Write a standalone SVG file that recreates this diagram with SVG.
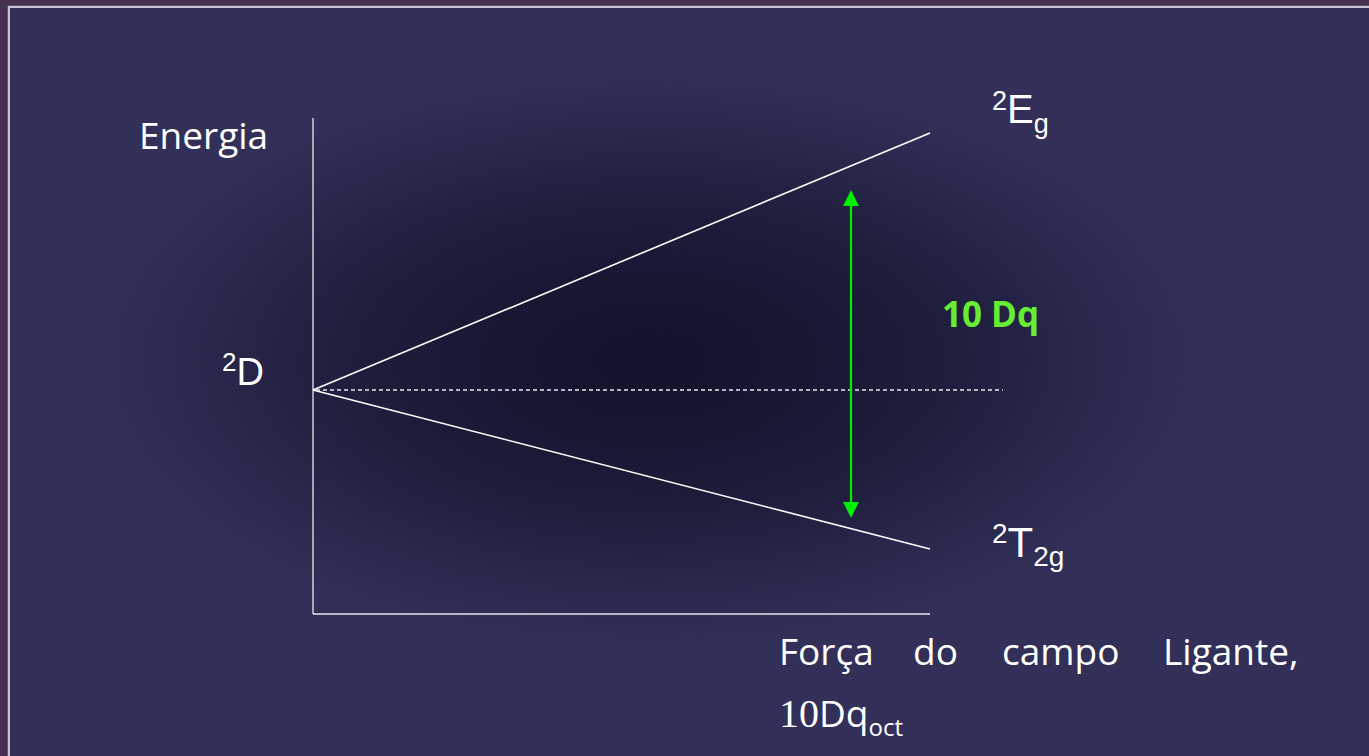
<svg xmlns="http://www.w3.org/2000/svg" width="1369" height="756" viewBox="0 0 1369 756">
<defs>
<radialGradient id="glow" cx="650" cy="360" r="560" gradientUnits="userSpaceOnUse" gradientTransform="translate(650 360) scale(1 0.52) translate(-650 -360)">
<stop offset="0" stop-color="#12122a"/>
<stop offset="0.5" stop-color="#1d1c3a"/>
<stop offset="0.85" stop-color="#2c2a50"/>
<stop offset="1" stop-color="#323058"/>
</radialGradient>
<style>
.ax{stroke:#e8e8ee;stroke-width:1.3;fill:none}
.ln{stroke:#ffffff;stroke-width:1.6;fill:none}
.t{fill:#ffffff;font-family:Arial,"Liberation Sans",sans-serif}
.c{fill:#ffffff;font-family:"Open Sans","Noto Sans",sans-serif}
.ah{fill:#00ee00}
</style>
</defs>
<rect x="0" y="0" width="1369" height="756" fill="#45304f"/>
<rect x="9" y="7" width="1362" height="752" fill="#323058" stroke="#c8c4d4" stroke-width="2.5"/>
<rect x="10" y="8" width="1359" height="748" fill="url(#glow)"/>
<g id="axes">
<line class="ax" x1="313" y1="118" x2="313" y2="614"/>
<line class="ax" x1="313" y1="614" x2="930" y2="614"/>
</g>
<g id="connectors">
<line class="ln" x1="313" y1="390" x2="930" y2="133"/>
<line class="ln" x1="313" y1="390" x2="930" y2="549"/>
<line x1="316" y1="390" x2="1003" y2="390" stroke="#e8e8ee" stroke-width="1.3" stroke-dasharray="4,3"/>
<line x1="851" y1="204" x2="851" y2="504" stroke="#00ee00" stroke-width="2.2"/>
<polygon class="ah" points="851,190 859,206 843,206"/>
<polygon class="ah" points="851,518 859,502 843,502"/>
</g>
<g id="energia"><text class="c" x="139" y="149" font-size="37">Energia</text></g>
<g id="D2"><text class="t" x="222" y="385" font-size="38"><tspan font-size="26" dy="-14">2</tspan><tspan dy="14">D</tspan></text></g>
<g id="Eg"><text class="t" x="992" y="123" font-size="40"><tspan font-size="27" dy="-13">2</tspan><tspan dy="13">E</tspan><tspan font-size="27" dy="10">g</tspan></text></g>
<g id="T2g"><text class="t" x="992" y="557" font-size="42"><tspan font-size="28" dy="-14">2</tspan><tspan dy="14">T</tspan><tspan font-size="28" dy="9">2g</tspan></text></g>
<g id="dq"><text x="942" y="327" font-size="35" font-weight="bold" fill="#66ee33" font-family="Open Sans,Noto Sans,sans-serif">10 Dq</text></g>
<g id="xlabel">
<text class="c" y="665" font-size="37"><tspan x="779">Força</tspan><tspan x="913">do</tspan><tspan x="1002">campo</tspan><tspan x="1163">Ligante,</tspan></text>
<text y="727" font-size="40" fill="#ffffff"><tspan font-family="Liberation Serif,serif" x="779">10</tspan><tspan font-family="Open Sans,Noto Sans,sans-serif" font-size="37">Dq</tspan><tspan font-family="Open Sans,Noto Sans,sans-serif" font-size="24" dy="9">oct</tspan></text>
</g>
</svg>
